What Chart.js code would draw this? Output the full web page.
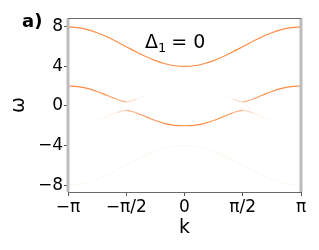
<!DOCTYPE html>
<html>
<head>
<meta charset="utf-8">
<script src="https://cdn.jsdelivr.net/npm/chart.js@4.4.0/dist/chart.umd.min.js"></script>
<style>
  body { margin: 0; background: #fff; }
</style>
</head>
<body>
<canvas id="myChart" width="319" height="250"></canvas>
<script>
// k samples, step pi/12
const kPoints = [-3.1416, -2.8798, -2.6180, -2.3562, -2.0944, -1.8326, -1.5708, -1.3090, -1.0472, -0.7854, -0.5236, -0.2618, 0,
                 0.2618, 0.5236, 0.7854, 1.0472, 1.3090, 1.5708, 1.8326, 2.0944, 2.3562, 2.6180, 2.8798, 3.1416];

// bands
const upperBand = [8.0, 7.93, 7.73, 7.41, 7.0, 6.52, 6.0, 5.48, 5.0, 4.59, 4.27, 4.07, 4.0,
                   4.07, 4.27, 4.59, 5.0, 5.48, 6.0, 6.52, 7.0, 7.41, 7.73, 7.93, 8.0];
const midUpper = [2.02, 1.96, 1.78, 1.47, 1.08, 0.68, 0.42, 0.68, 1.08, 1.47, 1.78, 1.96, 2.02,
                  1.96, 1.78, 1.47, 1.08, 0.68, 0.42, 0.68, 1.08, 1.47, 1.78, 1.96, 2.02];
const midLower = [-2.02, -1.96, -1.78, -1.47, -1.08, -0.68, -0.45, -0.68, -1.08, -1.47, -1.78, -1.96, -2.0,
                  -1.96, -1.78, -1.47, -1.08, -0.68, -0.45, -0.68, -1.08, -1.47, -1.78, -1.96, -2.02];
const lowerBand = [-8.0, -7.93, -7.73, -7.41, -7.0, -6.52, -6.0, -5.48, -5.0, -4.59, -4.27, -4.07, -4.0,
                   -4.07, -4.27, -4.59, -5.0, -5.48, -6.0, -6.52, -7.0, -7.41, -7.73, -7.93, -8.0];

// spectral weight (how strong each branch looks)
const upperWeight = [1, 1, 1, 1, 1, 1, 1, 1, 1, 1, 1, 1, 1, 1, 1, 1, 1, 1, 1, 1, 1, 1, 1, 1, 1];
const midUpperWeight = [1, 1, 1, 1, 0.95, 0.85, 0.5, 0.15, 0.04, 0, 0, 0, 0,
                        0, 0, 0, 0.04, 0.15, 0.5, 0.85, 0.95, 1, 1, 1, 1];
const midLowerWeight = [0.015, 0.015, 0.02, 0.04, 0.08, 0.2, 0.5, 0.85, 0.95, 1, 1, 1, 1,
                        1, 1, 1, 0.95, 0.85, 0.5, 0.2, 0.08, 0.04, 0.02, 0.015, 0.015];
const lowerWeight = [0.12, 0.12, 0.12, 0.12, 0.12, 0.12, 0.12, 0.12, 0.12, 0.12, 0.12, 0.12, 0.12,
                     0.12, 0.12, 0.12, 0.12, 0.12, 0.12, 0.12, 0.12, 0.12, 0.12, 0.12, 0.12];

const xTickVals = [-Math.PI, -Math.PI / 2, 0, Math.PI / 2, Math.PI];
const xTickLabels = ['\u2212\u03c0', '\u2212\u03c0/2', '0', '\u03c0/2', '\u03c0'];
const yTickVals = [-8, -4, 0, 4, 8];
const yTickLabels = ['\u22128', '\u22124', '0', '4', '8'];

const weights = [upperWeight, midUpperWeight, midLowerWeight, lowerWeight];
const rgb = ['255,140,70', '255,140,70', '255,140,70', '235,205,140'];

function pts(ys) {
    return kPoints.map((k, i) => ({ x: k, y: ys[i] }));
}

function segColor(ctx) {
    const w = weights[ctx.datasetIndex];
    const a = (w[ctx.p0DataIndex] + w[ctx.p1DataIndex]) / 2;
    return 'rgba(' + rgb[ctx.datasetIndex] + ',' + a + ')';
}

function band(ys) {
    return {
        data: pts(ys),
        borderWidth: 1.2,
        pointRadius: 0,
        cubicInterpolationMode: 'monotone',
        segment: { borderColor: segColor }
    };
}

const frame = {
    id: 'frame',
    afterDraw(chart) {
        const c = chart.ctx;
        const a = chart.chartArea;
        c.save();
        c.strokeStyle = '#bcbcbc';
        c.lineWidth = 3;
        c.beginPath();
        c.moveTo(a.left, a.top); c.lineTo(a.left, a.bottom);
        c.moveTo(a.right, a.top); c.lineTo(a.right, a.bottom);
        c.stroke();
        c.strokeStyle = '#6a6a6a';
        c.lineWidth = 1;
        c.beginPath();
        c.moveTo(a.left, a.top + 0.5); c.lineTo(a.right, a.top + 0.5);
        c.moveTo(a.left, a.bottom + 0.5); c.lineTo(a.right, a.bottom + 0.5);
        c.stroke();

        c.fillStyle = '#000';
        c.textBaseline = 'alphabetic';
        c.font = 'bold 18px "DejaVu Sans"';
        c.fillText('a)', 22, 27);

        c.font = '19px "DejaVu Sans"';
        let x = 145;
        c.fillText('\u0394', x, 48);
        x += c.measureText('\u0394').width;
        c.font = '13px "DejaVu Sans"';
        c.fillText('1', x, 52);
        x += c.measureText('1').width + 5;
        c.font = '19px "DejaVu Sans"';
        c.fillText('= 0', x, 48);
        c.restore();
    }
};

const myChart = new Chart(document.getElementById('myChart'), {
    type: 'line',
    data: {
        datasets: [band(upperBand), band(midUpper), band(midLower), band(lowerBand)]
    },
    options: {
        responsive: false,
        devicePixelRatio: 1,
        animation: false,
        layout: { padding: { top: 18, right: 18, left: 0, bottom: 0 } },
        plugins: { legend: { display: false }, tooltip: { enabled: false } },
        scales: {
            x: {
                type: 'linear',
                min: -Math.PI,
                max: Math.PI,
                afterFit: s => { s.height = 58; },
                afterBuildTicks: s => { s.ticks = xTickVals.map(v => ({ value: v })); },
                border: { display: false },
                grid: { drawOnChartArea: false, drawTicks: true, tickLength: 4, color: '#555' },
                ticks: {
                    autoSkip: false,
                    maxRotation: 0,
                    padding: 1,
                    color: '#000',
                    font: { family: 'DejaVu Sans', size: 17 },
                    callback: (v, i) => xTickLabels[i]
                },
                title: {
                    display: true,
                    text: 'k',
                    color: '#000',
                    font: { family: 'DejaVu Sans', size: 19 },
                    padding: { top: 0, bottom: 11 }
                }
            },
            y: {
                min: -8.7,
                max: 8.9,
                afterFit: s => { s.width = 68; },
                afterBuildTicks: s => { s.ticks = yTickVals.map(v => ({ value: v })); },
                border: { display: false },
                grid: { drawOnChartArea: false, drawTicks: true, tickLength: 4, color: '#555' },
                ticks: {
                    autoSkip: false,
                    padding: 1,
                    color: '#000',
                    font: { family: 'DejaVu Sans', size: 17 },
                    callback: (v, i) => yTickLabels[i]
                },
                title: {
                    display: true,
                    text: '\u03c9',
                    color: '#000',
                    font: { family: 'DejaVu Sans', size: 19 },
                    padding: { top: 8, bottom: 0 }
                }
            }
        }
    },
    plugins: [frame]
});
</script>
</body>
</html>
